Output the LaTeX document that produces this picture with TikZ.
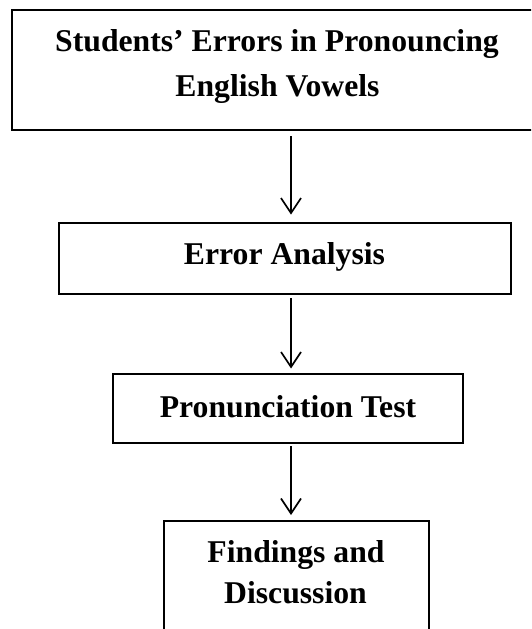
\documentclass[tikz,border=0pt]{standalone}
\usepackage{fontspec}
\setmainfont{Liberation Serif}
\usetikzlibrary{arrows.meta}
\begin{document}
\begin{tikzpicture}[x=1pt,y=-1pt,
  boxnode/.style={draw=black,line width=2pt,rectangle,inner sep=0pt,fill=none},
  label/.style={font=\bfseries\fontsize{31.7pt}{38pt}\selectfont,inner sep=0pt,anchor=base},
  arr/.style={line width=1.7pt,-{Straight Barb[length=15pt,width=20pt,line width=1.7pt]}}]
\useasboundingbox (0,0) rectangle (531,629);
\clip (0,0) rectangle (531,629);
\node[boxnode,minimum width=529.8pt,minimum height=119.3pt] (b1) at (277.1,69.85) {};
\node[boxnode,minimum width=452.4pt,minimum height=71pt] (b2) at (284.8,258.5) {};
\node[boxnode,minimum width=350pt,minimum height=68.5pt] (b3) at (288,408.25) {};
\node[boxnode,minimum width=264.7pt,minimum height=144pt] (b4) at (296.65,593) {};
\node[label] (t1a) at (277,51) {Students’ Errors in Pronouncing};
\node[label] (t1b) at (277.5,96.5) {English Vowels};
\node[label] (t2) at (284.5,264.7) {Error Analysis};
\node[label] (t3) at (288,417) {Pronunciation Test};
\node[label] (t4a) at (296,562) {Findings and};
\node[label] (t4b) at (295.5,603) {Discussion};
\coordinate (ax) at (291,0);
\draw[arr,shorten <=5.5pt,shorten >=7.4pt] (b1.south -| ax) -- (b2.north -| ax);
\draw[arr,shorten <=3pt,shorten >=4.5pt] (b2.south -| ax) -- (b3.north -| ax);
\draw[arr,shorten <=2.5pt,shorten >=5pt] (b3.south -| ax) -- (b4.north -| ax);
\end{tikzpicture}
\end{document}
